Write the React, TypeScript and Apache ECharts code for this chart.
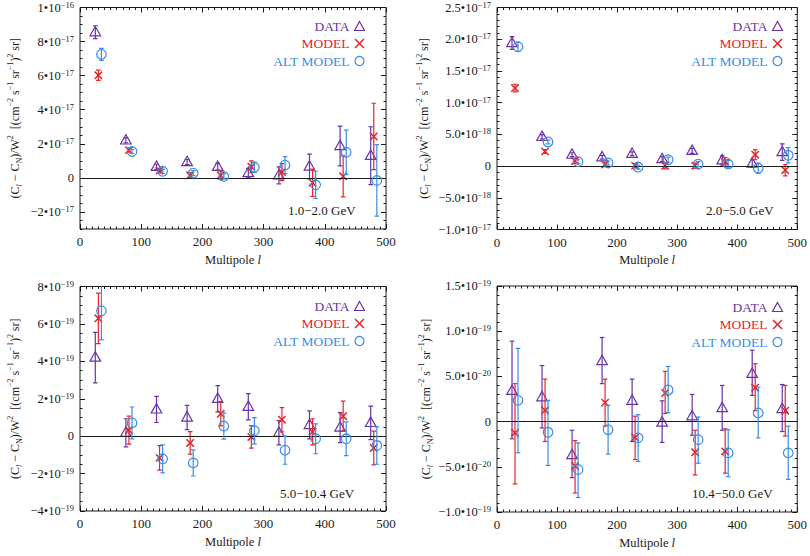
import React, { useEffect, useRef } from "react";
import * as echarts from "echarts";

const PURPLE = "#6a32a8";
const RED = "#e3262b";
const BLUE = "#3b8de3";
const INK = "#1a1a1a";
const FONT = "'Liberation Serif', 'DejaVu Serif', serif";

// Multipole bin positions for each series (offset for readability)
const L_DATA = [25, 75, 125, 175, 225, 275, 325, 375, 425, 475];
const L_MODEL = [30, 80, 130, 180, 230, 280, 330, 380, 430, 480];
const L_ALT = [35, 85, 135, 185, 235, 285, 335, 385, 435, 485];

// Panel 1: 1.0–2.0 GeV  (values in units of 1e-17)
const p1DataVal = [8.55, 2.2, 0.65, 0.93, 0.65, 0.28, 0.15, 0.67, 1.87, 1.3];
const p1DataErr = [0.38, 0.15, 0.15, 0.15, 0.2, 0.28, 0.5, 0.73, 1.17, 1.7];
const p1ModelVal = [6.02, 1.63, 0.43, 0.15, 0.15, 0.65, 0.34, -0.28, 0.09, 2.43];
const p1ModelErr = [0.3, 0.12, 0.12, 0.15, 0.25, 0.35, 0.5, 0.8, 1.2, 1.95];
const p1AltVal = [7.25, 1.55, 0.39, 0.28, 0.09, 0.62, 0.75, -0.41, 1.5, -0.15];
const p1AltErr = [0.35, 0.12, 0.12, 0.15, 0.15, 0.3, 0.5, 0.8, 1.3, 2.1];
const p1Ticks = [-2, 0, 2, 4, 6, 8, 10];

// Panel 2: 2.0–5.0 GeV  (values in units of 1e-18)
const p2DataVal = [19.4, 4.6, 1.8, 1.4, 1.95, 1.1, 2.4, 0.9, 0.4, 2.2];
const p2DataErr = [1.0, 0.35, 0.3, 0.3, 0.3, 0.4, 0.4, 0.7, 0.6, 1.3];
const p2ModelVal = [12.3, 2.3, 0.8, 0.25, 0.05, 0.05, 0.05, 0.65, 1.8, -0.65];
const p2ModelErr = [0.6, 0.3, 0.4, 0.35, 0.35, 0.5, 0.4, 0.7, 0.8, 0.9];
const p2AltVal = [18.8, 3.8, 0.7, 0.5, -0.15, 1.0, 0.3, 0.3, -0.35, 1.7];
const p2AltErr = [0.7, 0.3, 0.3, 0.3, 0.3, 0.4, 0.4, 0.6, 0.8, 1.2];
const p2Ticks = [-10, -5, 0, 5, 10, 15, 20, 25];

// Panel 3: 5.0–10.4 GeV  (values in units of 1e-19)
const p3DataVal = [4.2, 0.18, 1.43, 1.0, 2.0, 1.57, 0.18, 0.6, 0.46, 0.71];
const p3DataErr = [1.35, 0.75, 0.7, 0.65, 0.7, 0.7, 0.65, 0.75, 0.8, 0.9];
const p3ModelVal = [6.3, 0.32, -1.16, -0.36, 1.2, -0.04, 0.88, 0.23, 1.07, -0.63];
const p3ModelErr = [1.35, 0.75, 0.65, 0.6, 0.65, 0.6, 0.65, 0.7, 0.8, 0.9];
const p3AltVal = [6.7, 0.71, -1.21, -1.43, 0.54, 0.29, -0.75, -0.14, -0.14, -0.5];
const p3AltErr = [1.55, 0.85, 0.75, 0.7, 0.7, 0.7, 0.75, 0.8, 0.9, 1.0];
const p3Ticks = [-4, -2, 0, 2, 4, 6, 8];

// Panel 4: 10.4–50.0 GeV  (values in units of 1e-20), asymmetric bars read as low/high ends
const p4DataVal = [3.4, 2.7, -3.7, 6.7, 2.3, -0.1, 0.6, 1.5, 5.3, 1.4];
const p4DataLo = [-1.9, -0.7, -6.2, 4.2, -2.2, -2.3, -1.5, -0.96, 2.9, -1.1];
const p4DataHi = [8.9, 6.2, -0.96, 9.3, 4.7, 2.3, 3.0, 4.0, 7.9, 4.1];
const p4ModelVal = [-1.25, 1.25, -4.9, 2.1, -1.76, 3.16, -3.4, -3.3, 3.75, 1.2];
const p4ModelLo = [-6.9, -2.2, -7.9, -0.5, -4.2, 0.9, -5.9, -5.7, 1.2, -1.6];
const p4ModelHi = [4.2, 4.7, -2.1, 4.7, 0.6, 5.55, -0.96, -0.8, 6.4, 4.0];
const p4AltVal = [2.35, -1.18, -5.3, -0.9, -1.8, 3.5, -2.0, -3.46, 0.96, -3.46];
const p4AltLo = [-3.45, -4.85, -8.4, -3.6, -4.4, 1.0, -4.6, -6.1, -1.8, -6.4];
const p4AltHi = [8.1, 2.35, -2.35, 1.8, 0.77, 6.1, 0.5, -0.9, 3.8, -0.5];
const p4Ticks = [-10, -5, 0, 5, 10, 15];

const SERIES_NAMES = ["DATA", "MODEL", "ALT MODEL"];
const COLORS = [PURPLE, RED, BLUE];

type Row = number[];
const symRows = (ls: number[], v: number[], e: number[]): Row[] =>
  ls.map((l, i) => [l, v[i], v[i] - e[i], v[i] + e[i]]);
const asymRows = (ls: number[], v: number[], lo: number[], hi: number[]): Row[] =>
  ls.map((l, i) => [l, v[i], lo[i], hi[i]]);

const PANELS = [
  {
    label: "1.0\u22122.0 GeV",
    unitExp: -17, decimals: 0, min: -3, max: 10, minorStep: 0.5, ticks: p1Ticks,
    grid: { left: 80, top: 4.5, width: 306, height: 224.5 },
    nameGap: 57, legend: { right: 443, top: 19 }, labelPos: { left: 288, top: 204 },
    rows: [
      symRows(L_DATA, p1DataVal, p1DataErr),
      symRows(L_MODEL, p1ModelVal, p1ModelErr),
      symRows(L_ALT, p1AltVal, p1AltErr),
    ],
  },
  {
    label: "2.0\u22125.0 GeV",
    unitExp: -18, decimals: 1, min: -10, max: 25, minorStep: 1, ticks: p2Ticks,
    grid: { left: 497, top: 3.5, width: 305, height: 226 },
    nameGap: 65, legend: { right: 25, top: 19 }, labelPos: { left: 706, top: 204 },
    rows: [
      symRows(L_DATA, p2DataVal, p2DataErr),
      symRows(L_MODEL, p2ModelVal, p2ModelErr),
      symRows(L_ALT, p2AltVal, p2AltErr),
    ],
  },
  {
    label: "5.0\u221210.4 GeV",
    unitExp: -19, decimals: 0, min: -4, max: 8, minorStep: 0.5, ticks: p3Ticks,
    grid: { left: 80, top: 286.5, width: 306, height: 224.5 },
    nameGap: 57, legend: { right: 443, top: 299 }, labelPos: { left: 280, top: 487 },
    rows: [
      symRows(L_DATA, p3DataVal, p3DataErr),
      symRows(L_MODEL, p3ModelVal, p3ModelErr),
      symRows(L_ALT, p3AltVal, p3AltErr),
    ],
  },
  {
    label: "10.4\u221250.0 GeV",
    unitExp: -20, decimals: 1, min: -10, max: 15, minorStep: 1, ticks: p4Ticks,
    grid: { left: 497, top: 286, width: 305, height: 226 },
    nameGap: 63, legend: { right: 25, top: 300 }, labelPos: { left: 692, top: 487 },
    rows: [
      asymRows(L_DATA, p4DataVal, p4DataLo, p4DataHi),
      asymRows(L_MODEL, p4ModelVal, p4ModelLo, p4ModelHi),
      asymRows(L_ALT, p4AltVal, p4AltLo, p4AltHi),
    ],
  },
];

const fmtSci = (v: number, unitExp: number, decimals: number) => {
  if (Math.abs(v) < 1e-9) return "{m|0}";
  const e = Math.floor(Math.log10(Math.abs(v)) + 1e-9);
  const mant = v / Math.pow(10, e);
  const exp = unitExp + e;
  const sign = mant < 0 ? "\u2212" : "";
  return `{m|${sign}${Math.abs(mant).toFixed(decimals)}\u202210}{e|\u2212${-exp}}`;
};

const tickRich = {
  m: { fontFamily: FONT, fontSize: 12.5, color: INK, lineHeight: 15 },
  e: { fontFamily: FONT, fontSize: 8.5, color: INK, verticalAlign: "top" },
};

const Y_NAME =
  "{n|(C}{sub|l}{n| \u2212 C}{sub2|N}{n|)/W}{sup|2}{n|  [(cm}{sup|\u22122}{n| s}{sup|\u22121}{n| sr}{sup|\u22121}{n|)}{sup|2}{n| sr]}";

const nameRich = {
  n: { fontFamily: FONT, fontSize: 12, color: INK, lineHeight: 17 },
  sup: { fontFamily: FONT, fontSize: 8, color: INK, verticalAlign: "top" },
  sub: { fontFamily: FONT, fontSize: 8, color: INK, fontStyle: "italic", verticalAlign: "bottom" },
  sub2: { fontFamily: FONT, fontSize: 8, color: INK, verticalAlign: "bottom" },
};

const makeRender = (kind: number) => (params: any, api: any) => {
  const x = api.value(0);
  const v = api.value(1);
  const lo = api.value(2);
  const hi = api.value(3);
  const p = api.coord([x, v]);
  const yl = api.coord([x, lo])[1];
  const yh = api.coord([x, hi])[1];
  const color = COLORS[kind];
  const style = { stroke: color, lineWidth: 1.2, fill: "none" };
  const cw = 2.3;
  const children: any[] = [
    { type: "line", shape: { x1: p[0], y1: yh, x2: p[0], y2: yl }, style },
    { type: "line", shape: { x1: p[0] - cw, y1: yh, x2: p[0] + cw, y2: yh }, style },
    { type: "line", shape: { x1: p[0] - cw, y1: yl, x2: p[0] + cw, y2: yl }, style },
  ];
  if (kind === 0) {
    children.push({
      type: "polygon",
      shape: { points: [[p[0], p[1] - 5.8], [p[0] - 5.3, p[1] + 3.6], [p[0] + 5.3, p[1] + 3.6]] },
      style: { stroke: color, lineWidth: 1.2, fill: "none" },
    });
  } else if (kind === 1) {
    const s = 3.7;
    children.push(
      { type: "line", shape: { x1: p[0] - s, y1: p[1] - s, x2: p[0] + s, y2: p[1] + s }, style: { stroke: color, lineWidth: 1.5 } },
      { type: "line", shape: { x1: p[0] - s, y1: p[1] + s, x2: p[0] + s, y2: p[1] - s }, style: { stroke: color, lineWidth: 1.5 } }
    );
  } else {
    children.push({
      type: "circle",
      shape: { cx: p[0], cy: p[1], r: 4.8 },
      style: { stroke: color, lineWidth: 1.2, fill: "none" },
    });
  }
  return { type: "group", children };
};

const legendText = (color: string) => ({
  color, fontFamily: FONT, fontSize: 13.5, lineHeight: 13,
});

function buildOption() {
  const grid: any[] = [];
  const xAxis: any[] = [];
  const yAxis: any[] = [];
  const series: any[] = [];
  const legend: any[] = [];
  const title: any[] = [];

  PANELS.forEach((pn, gi) => {
    grid.push({ ...pn.grid, show: true, borderColor: INK, borderWidth: 1, backgroundColor: "transparent" });

    const xBase = {
      gridIndex: gi, type: "value", min: 0, max: 500, interval: 100,
      axisLine: { show: false, onZero: false }, splitLine: { show: false },
      axisTick: { show: true, inside: true, length: 5, lineStyle: { color: INK } },
      minorTick: { show: true, splitNumber: 10, length: 2.5, lineStyle: { color: INK } },
    };
    const xMain = xAxis.length;
    xAxis.push({
      ...xBase, position: "bottom",
      axisLabel: { margin: 6, color: INK, fontFamily: FONT, fontSize: 13 },
      name: "{n|Multipole }{i|l}", nameLocation: "middle", nameGap: 24,
      nameTextStyle: {
        rich: {
          n: { fontFamily: FONT, fontSize: 12.5, color: INK },
          i: { fontFamily: FONT, fontSize: 12.5, color: INK, fontStyle: "italic" },
        },
      },
    });
    xAxis.push({ ...xBase, position: "top", axisLabel: { show: false } });

    const yBase = {
      gridIndex: gi, type: "value", min: pn.min, max: pn.max, interval: pn.minorStep,
      axisLine: { show: false, onZero: false }, splitLine: { show: false },
    };
    const yMain = yAxis.length;
    yAxis.push({
      ...yBase, position: "left",
      axisTick: { show: true, inside: true, length: 5, customValues: pn.ticks, lineStyle: { color: INK } },
      axisLabel: {
        customValues: pn.ticks, margin: 6,
        formatter: (v: number) => fmtSci(v, pn.unitExp, pn.decimals),
        rich: tickRich,
      },
      name: Y_NAME, nameLocation: "middle", nameRotate: 90, nameGap: pn.nameGap,
      nameTextStyle: { rich: nameRich },
    });
    yAxis.push({ ...yBase, position: "left", axisLabel: { show: false },
      axisTick: { show: true, inside: true, length: 2.5, lineStyle: { color: INK } } });
    yAxis.push({ ...yBase, position: "right", axisLabel: { show: false },
      axisTick: { show: true, inside: true, length: 5, customValues: pn.ticks, lineStyle: { color: INK } } });
    yAxis.push({ ...yBase, position: "right", axisLabel: { show: false },
      axisTick: { show: true, inside: true, length: 2.5, lineStyle: { color: INK } } });

    pn.rows.forEach((rows, k) => {
      const s: any = {
        type: "custom", name: SERIES_NAMES[k], xAxisIndex: xMain, yAxisIndex: yMain,
        clip: true, data: rows, encode: { x: 0, y: 1 },
        renderItem: makeRender(k), z: 3 + k,
        itemStyle: { color: COLORS[k] },
      };
      if (k === 0) {
        s.markLine = {
          silent: true, symbol: ["none", "none"], label: { show: false },
          lineStyle: { color: INK, width: 1, type: "solid" },
          data: [{ yAxis: 0 }],
        };
      }
      series.push(s);
    });

    legend.push({
      orient: "vertical", align: "right", right: pn.legend.right, top: pn.legend.top,
      itemGap: 3.5, itemWidth: 10, itemHeight: 9, selectedMode: false, padding: 0,
      textStyle: legendText(INK),
      data: [
        { name: "DATA", icon: "triangle", itemStyle: { color: "none", borderColor: PURPLE, borderWidth: 1.2 }, textStyle: legendText(PURPLE) },
        { name: "MODEL", icon: "path://M0,0L10,10M10,0L0,10", itemStyle: { color: "none", borderColor: RED, borderWidth: 1.5 }, textStyle: legendText(RED) },
        { name: "ALT MODEL", icon: "circle", itemStyle: { color: "none", borderColor: BLUE, borderWidth: 1.2 }, textStyle: legendText(BLUE) },
      ],
    });

    title.push({
      text: pn.label, left: pn.labelPos.left, top: pn.labelPos.top, padding: 0,
      textStyle: { fontFamily: FONT, fontSize: 13, fontWeight: "normal", color: INK },
    });
  });

  return {
    animation: false,
    backgroundColor: "#ffffff",
    textStyle: { fontFamily: FONT },
    grid, xAxis, yAxis, series, legend, title,
  };
}

export default function App() {
  const ref = useRef<HTMLDivElement>(null);
  useEffect(() => {
    if (!ref.current) return;
    const chart = echarts.init(ref.current, null, { renderer: "svg" });
    chart.setOption(buildOption() as any);
    return () => chart.dispose();
  }, []);
  return (
    <div
      ref={ref}
      style={{ position: "fixed", left: 0, top: 0, width: 810, height: 556, background: "#fff" }}
    />
  );
}
